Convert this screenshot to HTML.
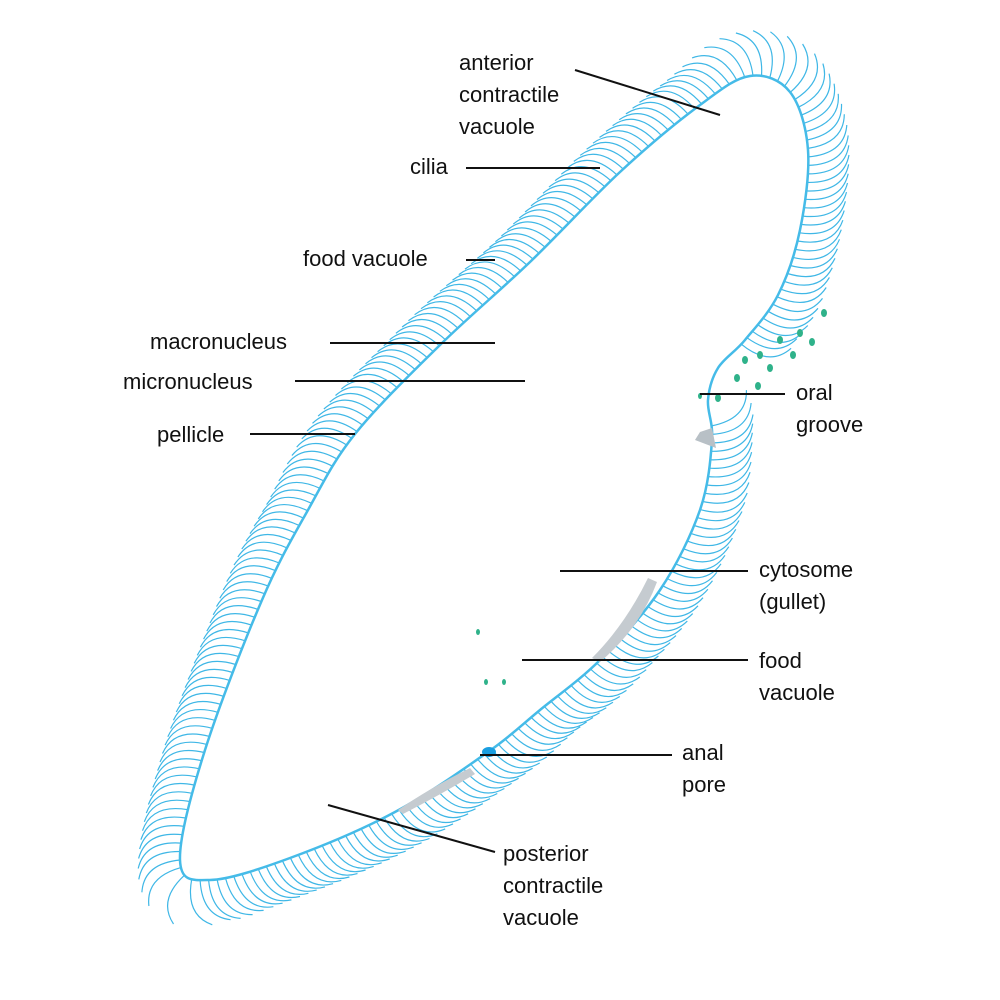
<!DOCTYPE html>
<html><head><meta charset="utf-8">
<style>
html,body{margin:0;padding:0;background:#fff;}
svg{display:block;}
text{font-family:"Liberation Sans",sans-serif;font-size:22px;fill:#111;}
</style></head>
<body>
<svg id="diagram" width="1000" height="1000" viewBox="0 0 1000 1000">
  <g id="cilia"></g>
  <path id="body" fill="#fff" stroke="#45bbe8" stroke-width="2.5"/>
  <path d="M648,578 Q625,625 592,658 L600,662 Q640,628 657,582 Z" fill="#c5cbd0"/>
  <path d="M470,768 Q430,788 398,810 L403,814 Q440,795 475,774 Z" fill="#c5cbd0"/>
  <path d="M700,432 L712,428 L716,448 L695,440 Z" fill="#b8c0c6"/>
  <g fill="#2fb28a">
    <ellipse cx="824" cy="313" rx="3" ry="4"/><ellipse cx="800" cy="333" rx="3" ry="4"/>
    <ellipse cx="780" cy="340" rx="3" ry="4"/><ellipse cx="812" cy="342" rx="3" ry="4"/>
    <ellipse cx="760" cy="355" rx="3" ry="4"/><ellipse cx="793" cy="355" rx="3" ry="4"/>
    <ellipse cx="745" cy="360" rx="3" ry="4"/><ellipse cx="770" cy="368" rx="3" ry="4"/>
    <ellipse cx="737" cy="378" rx="3" ry="4"/><ellipse cx="758" cy="386" rx="3" ry="4"/>
    <ellipse cx="718" cy="398" rx="3" ry="4"/><ellipse cx="700" cy="396" rx="2" ry="3"/>
    <ellipse cx="478" cy="632" rx="2" ry="3"/><ellipse cx="486" cy="682" rx="2" ry="3"/><ellipse cx="504" cy="682" rx="2" ry="3"/>
  </g>
  <ellipse cx="489" cy="752" rx="7" ry="5" fill="#1a9ee0"/>
  <g stroke="#111" stroke-width="2">
    <line x1="575" y1="70" x2="720" y2="115"/>
    <line x1="466" y1="168" x2="600" y2="168"/>
    <line x1="466" y1="260" x2="495" y2="260"/>
    <line x1="330" y1="343" x2="495" y2="343"/>
    <line x1="295" y1="381" x2="525" y2="381"/>
    <line x1="250" y1="434" x2="355" y2="434"/>
    <line x1="700" y1="394" x2="785" y2="394"/>
    <line x1="560" y1="571" x2="748" y2="571"/>
    <line x1="522" y1="660" x2="748" y2="660"/>
    <line x1="480" y1="755" x2="672" y2="755"/>
    <line x1="328" y1="805" x2="495" y2="852"/>
  </g>
  <g>
    <text x="459" y="70">anterior<tspan x="459" dy="32">contractile</tspan><tspan x="459" dy="32">vacuole</tspan></text>
    <text x="410" y="174">cilia</text>
    <text x="303" y="266">food vacuole</text>
    <text x="150" y="349">macronucleus</text>
    <text x="123" y="389">micronucleus</text>
    <text x="157" y="442">pellicle</text>
    <text x="796" y="400">oral<tspan x="796" dy="32">groove</tspan></text>
    <text x="759" y="577">cytosome<tspan x="759" dy="32">(gullet)</tspan></text>
    <text x="759" y="668">food<tspan x="759" dy="32">vacuole</tspan></text>
    <text x="682" y="760">anal<tspan x="682" dy="32">pore</tspan></text>
    <text x="503" y="861">posterior<tspan x="503" dy="32">contractile</tspan><tspan x="503" dy="32">vacuole</tspan></text>
  </g>
</svg>
<script>
const outline = [[180,860],[205,750],[262,600],[308,510],[355,434],[440,345],[530,262],[620,172],[700,105],[750,76],[790,92],[808,150],[800,230],[778,295],[745,340],[718,368],[708,400],[712,440],[700,510],[660,590],[600,660],[540,710],[488,752],[395,812],[290,858],[210,880]];
const n = outline.length;
let d = `M${outline[0][0]},${outline[0][1]} `;
for (let i = 0; i < n; i++) {
  const p0 = outline[(i - 1 + n) % n], p1 = outline[i], p2 = outline[(i + 1) % n], p3 = outline[(i + 2) % n];
  const c1 = [p1[0] + (p2[0] - p0[0]) / 6, p1[1] + (p2[1] - p0[1]) / 6];
  const c2 = [p2[0] - (p3[0] - p1[0]) / 6, p2[1] - (p3[1] - p1[1]) / 6];
  d += `C${c1[0].toFixed(1)},${c1[1].toFixed(1)} ${c2[0].toFixed(1)},${c2[1].toFixed(1)} ${p2[0]},${p2[1]} `;
}
d += 'Z';
const body = document.getElementById('body');
body.setAttribute('d', d);
const total = body.getTotalLength();
const cx0 = 500, cy0 = 470;
let cd = '';
const step = 8.5;
for (let s = 0; s < total; s += step) {
  const p = body.getPointAtLength(s);
  const q = body.getPointAtLength((s + 1) % total);
  let tx = q.x - p.x, ty = q.y - p.y;
  const tl = Math.hypot(tx, ty) || 1; tx = -tx / tl; ty = -ty / tl;
  let nx = ty, ny = -tx;
  if (nx * (p.x - cx0) + ny * (p.y - cy0) < 0) { nx = -nx; ny = -ny; }
  if (p.y > 345 && p.y < 425 && p.x > 690 && p.x < 760) continue;
  const L = 52;
  const ex = p.x + nx * L * 0.75 + tx * L * 0.6, ey = p.y + ny * L * 0.75 + ty * L * 0.6;
  const mx = p.x + nx * L * 0.7 + tx * L * 0.05, my = p.y + ny * L * 0.7 + ty * L * 0.05;
  cd += `M${p.x.toFixed(1)},${p.y.toFixed(1)} Q${mx.toFixed(1)},${my.toFixed(1)} ${ex.toFixed(1)},${ey.toFixed(1)} `;
}
const cp = document.createElementNS('http://www.w3.org/2000/svg', 'path');
cp.setAttribute('d', cd);
cp.setAttribute('fill', 'none');
cp.setAttribute('stroke', '#3fb7e6');
cp.setAttribute('stroke-width', '1.2');


document.getElementById('cilia').appendChild(cp);
</script>
</body></html>
